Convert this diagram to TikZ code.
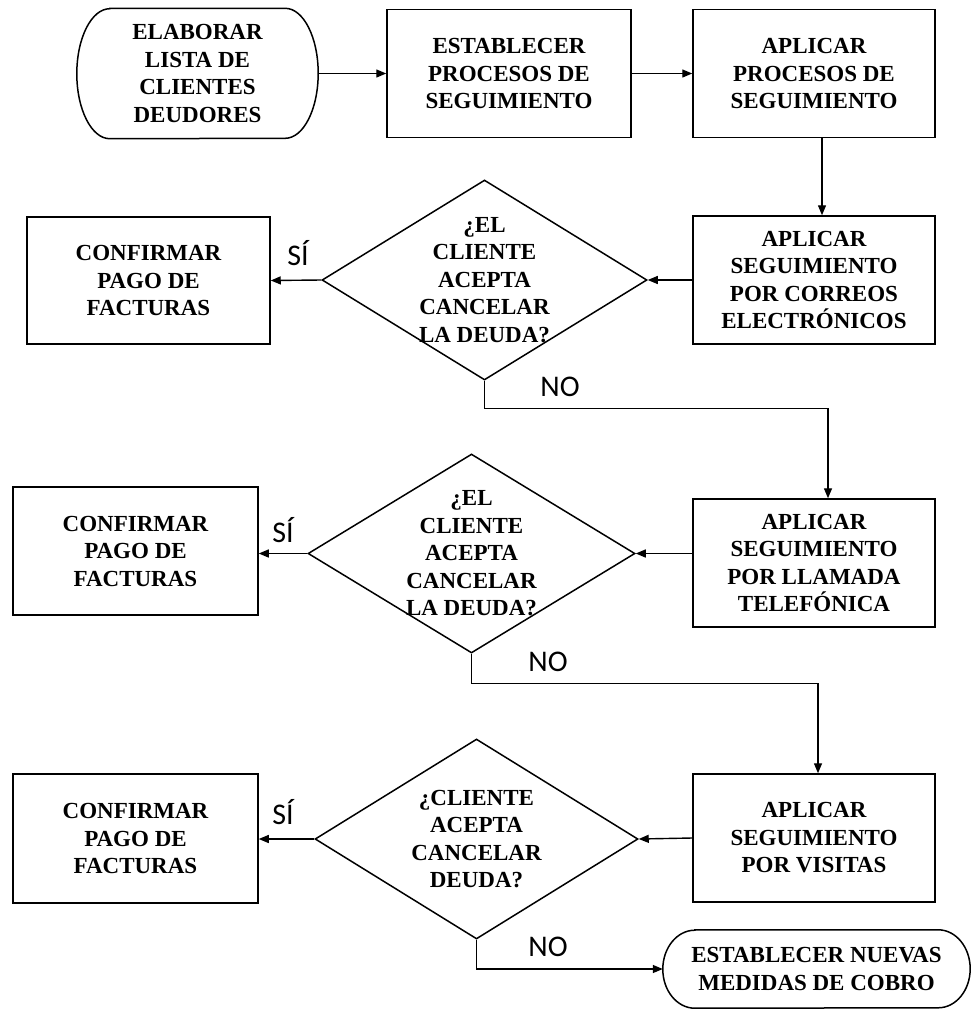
\documentclass[tikz,border=0pt]{standalone}
\usepackage{fontspec}
\setmainfont{Liberation Serif}
\newfontfamily\sifont{Carlito}
\usetikzlibrary{shapes.geometric,arrows.meta}
\begin{document}
\begin{tikzpicture}[x=1pt,y=-1pt,
  outline/.style={line width=1.5pt},
  arr/.style={line width=1.4pt,-{Triangle[length=10pt,width=8pt]}},
  txt/.style={font=\bfseries\fontsize{23}{27.5}\selectfont, align=center, inner sep=0pt},
  box/.style={txt, draw, line width=1.5pt},
  dia/.style={diamond, draw, line width=1.5pt, inner sep=0pt},
  lab/.style={font=\sifont\fontsize{30}{30}\selectfont, inner sep=0pt}]
\useasboundingbox (0,0) rectangle (972,1010);

% top row
\node[txt, minimum width=241pt, minimum height=130pt] (t1) at (197.5,73.5) {ELABORAR\\LISTA DE\\CLIENTES\\DEUDORES};
\draw[outline] ([xshift=33pt]t1.north west) -- ([xshift=-33pt]t1.north east)
  arc[start angle=90, end angle=-90, x radius=33pt, y radius=65pt]
  -- ([xshift=33pt]t1.south west)
  arc[start angle=270, end angle=90, x radius=33pt, y radius=65pt] -- cycle;
\node[box, minimum width=244pt, minimum height=128pt] (b2) at (509,73.5) {ESTABLECER\\PROCESOS DE\\SEGUIMIENTO};
\node[box, minimum width=242pt, minimum height=128pt] (b3) at (814,73.5) {APLICAR\\PROCESOS DE\\SEGUIMIENTO};

% row 1
\node[box, minimum width=243pt, minimum height=127pt] (c1) at (148.5,280.5) {CONFIRMAR\\PAGO DE\\FACTURAS};
\node[dia, minimum width=325pt, minimum height=200pt,
  label={[txt]center:{¿EL\\CLIENTE\\ACEPTA\\CANCELAR\\LA DEUDA?}}] (d1) at (484.5,280) {};
\node[box, minimum width=242pt, minimum height=128pt] (b4) at (814,280) {APLICAR\\SEGUIMIENTO\\POR CORREOS\\ELECTRÓNICOS};

% row 2
\node[box, minimum width=245pt, minimum height=128pt] (c2) at (135.5,551) {CONFIRMAR\\PAGO DE\\FACTURAS};
\node[dia, minimum width=327pt, minimum height=199pt,
  label={[txt]center:{¿EL\\CLIENTE\\ACEPTA\\CANCELAR\\LA DEUDA?}}] (d2) at (471.5,553.5) {};
\node[box, minimum width=242pt, minimum height=128pt] (b6) at (814,563) {APLICAR\\SEGUIMIENTO\\POR LLAMADA\\TELEFÓNICA};

% row 3
\node[box, minimum width=245pt, minimum height=129pt] (c3) at (135.5,838.5) {CONFIRMAR\\PAGO DE\\FACTURAS};
\node[dia, minimum width=323pt, minimum height=200pt,
  label={[txt]center:{¿CLIENTE\\ACEPTA\\CANCELAR\\DEUDA?}}] (d3) at (476.5,839) {};
\node[box, minimum width=242pt, minimum height=128pt] (b7) at (814,838) {APLICAR\\SEGUIMIENTO\\POR VISITAS};

% end terminal
\node[txt, minimum width=307pt, minimum height=78pt] (t2) at (816.5,969) {ESTABLECER NUEVAS\\MEDIDAS DE COBRO};
\draw[outline] ([xshift=32pt]t2.north west) -- ([xshift=-32pt]t2.north east)
  arc[start angle=90, end angle=-90, x radius=32pt, y radius=39pt]
  -- ([xshift=32pt]t2.south west)
  arc[start angle=270, end angle=90, x radius=32pt, y radius=39pt] -- cycle;

% labels
\node[lab] (s1) at (298,253) {SÍ};
\node[lab] (s2) at (283,530) {SÍ};
\node[lab] (s3) at (283,812) {SÍ};
\node[lab] (n1) at (560,387) {NO};
\node[lab] (n2) at (548,662) {NO};
\node[lab] (n3) at (548,947) {NO};

% connectors
\draw[arr] (t1.east) -- (b2.west);
\draw[arr] (b2.east) -- (b3.west);
\draw[arr] ([xshift=8pt]b3.south) -- ([xshift=8pt]b4.north);
\draw[arr] (b4.west) -- (d1.east);
\draw[arr] (d1.west) -- (c1.east);
\draw[arr] (d1.south) -- ++(0,28) -| ([xshift=14pt]b6.north);
\draw[arr] (b6.west |- d2.east) -- (d2.east);
\draw[arr] (d2.west) -- (d2.west -| c2.east);
\draw[arr] (d2.south) -- ++(0,30) -| ([xshift=4pt]b7.north);
\draw[arr] (b7.west) -- (d3.east);
\draw[arr] (d3.west) -- (d3.west -| c3.east);
\draw[arr] (d3.south) |- (t2.west);
\end{tikzpicture}
\end{document}
